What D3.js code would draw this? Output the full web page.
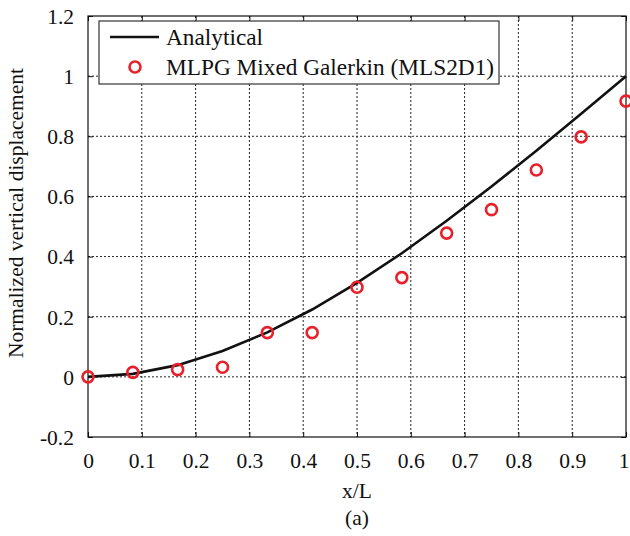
<!DOCTYPE html>
<html><head><meta charset="utf-8">
<script src="https://cdn.jsdelivr.net/npm/d3@7"></script>
<style>body{margin:0;background:#fff}svg text{font-family:"Liberation Serif","Tinos","Times New Roman",serif;fill:#111}</style>
</head><body><svg id="c" width="630" height="536"></svg>
<script>
const xTicks = [0,0.1,0.2,0.3,0.4,0.5,0.6,0.7,0.8,0.9,1];
const xTickLabels = ["0","0.1","0.2","0.3","0.4","0.5","0.6","0.7","0.8","0.9","1"];
const yTicks = [-0.2,0,0.2,0.4,0.6,0.8,1,1.2];
const yTickLabels = ["-0.2","0","0.2","0.4","0.6","0.8","1","1.2"];
const xPos = [0,1/12,2/12,3/12,4/12,5/12,6/12,7/12,8/12,9/12,10/12,11/12,1];
const analytical = [0,0.010,0.039,0.086,0.148,0.224,0.3125,0.411,0.519,0.633,0.752,0.875,1.0];
const mlpg = [0,0.015,0.024,0.032,0.147,0.147,0.298,0.330,0.478,0.556,0.688,0.798,0.917];
const seriesNames = ["Analytical","MLPG Mixed Galerkin (MLS2D1)"];

const FONT = '"Liberation Serif","Tinos","Times New Roman",serif';
const svg = d3.select("#c").attr("font-family",FONT);
const L=88,R=626,T=16,B=437;
const x = d3.scaleLinear().domain([0,1]).range([L,R]);
const y = d3.scaleLinear().domain([-0.2,1.2]).range([B,T]);

// grid
const g = svg.append("g");
g.selectAll(".gx").data(xTicks.slice(1,-1)).enter().append("line")
 .attr("x1",d=>x(d)).attr("x2",d=>x(d)).attr("y1",T).attr("y2",B)
 .attr("stroke","#222").attr("stroke-width",1).attr("stroke-dasharray","2,2");
g.selectAll(".gy").data(yTicks.slice(1,-1)).enter().append("line")
 .attr("y1",d=>y(d)).attr("y2",d=>y(d)).attr("x1",L).attr("x2",R)
 .attr("stroke","#222").attr("stroke-width",1).attr("stroke-dasharray","2,2");

// axes with inward ticks
const fmtX = (d,i)=>xTickLabels[i], fmtY=(d,i)=>yTickLabels[i];
svg.append("g").attr("transform",`translate(0,${B})`)
 .call(d3.axisBottom(x).tickValues(xTicks).tickFormat(fmtX).tickSizeInner(-5).tickSizeOuter(0))
 .call(a=>{a.attr("font-family",FONT);a.select(".domain").remove();
   a.selectAll("text").attr("font-size",21.5).attr("y",31).attr("dy",null).attr("font-family",FONT)
    .attr("x",(d,i)=>i===xTicks.length-1?-2.5:0);});
svg.append("g").attr("transform",`translate(0,${T})`)
 .call(d3.axisTop(x).tickValues(xTicks).tickFormat("").tickSizeInner(-5).tickSizeOuter(0))
 .call(a=>a.select(".domain").remove());
svg.append("g").attr("transform",`translate(${L},0)`)
 .call(d3.axisLeft(y).tickValues(yTicks).tickFormat(fmtY).tickSizeInner(-5).tickSizeOuter(0))
 .call(a=>{a.attr("font-family",FONT);a.select(".domain").remove();
   a.selectAll("text").attr("font-size",21.5).attr("x",-14).attr("dy","0.34em").attr("font-family",FONT);});
svg.append("g").attr("transform",`translate(${R},0)`)
 .call(d3.axisRight(y).tickValues(yTicks).tickFormat("").tickSizeInner(-5).tickSizeOuter(0))
 .call(a=>a.select(".domain").remove());
svg.selectAll(".tick line").attr("stroke","#111");
svg.append("rect").attr("x",L).attr("y",T).attr("width",R-L).attr("height",B-T)
 .attr("fill","none").attr("stroke","#111").attr("stroke-width",1.2);

// line
const pts = xPos.map((v,i)=>[v,analytical[i]]);
svg.append("path").datum(pts)
 .attr("d",d3.line().x(d=>x(d[0])).y(d=>y(d[1])))
 .attr("fill","none").attr("stroke","#111").attr("stroke-width",2.6);

// markers
svg.selectAll(".m").data(xPos.map((v,i)=>[v,mlpg[i]])).enter().append("circle")
 .attr("cx",d=>x(d[0])).attr("cy",d=>y(d[1])).attr("r",5.5)
 .attr("fill","none").attr("stroke","#e8202a").attr("stroke-width",2.6);

// legend
const lg = svg.append("g");
lg.append("rect").attr("x",99).attr("y",21).attr("width",400).attr("height",63)
 .attr("fill","#fff").attr("stroke","#333").attr("stroke-width",1.2);
lg.append("line").attr("x1",110).attr("x2",159).attr("y1",37).attr("y2",37)
 .attr("stroke","#111").attr("stroke-width",2.6);
lg.append("text").attr("x",166).attr("y",45).attr("font-size",23.3).attr("font-family",FONT).text(seriesNames[0]);
lg.append("circle").attr("cx",135).attr("cy",67).attr("r",5.5)
 .attr("fill","none").attr("stroke","#e8202a").attr("stroke-width",2.6);
lg.append("text").attr("x",166).attr("y",75).attr("font-size",23.3).attr("font-family",FONT).text(seriesNames[1]);

// labels
svg.append("text").attr("x",357).attr("y",498).attr("text-anchor","middle").attr("font-size",21.5).attr("font-family",FONT).text("x/L");
svg.append("text").attr("x",357).attr("y",525).attr("text-anchor","middle").attr("font-size",21.5).attr("font-family",FONT).text("(a)");
svg.append("text").attr("transform","translate(23,213) rotate(-90)").attr("text-anchor","middle").attr("font-size",21.5).attr("font-family",FONT).text("Normalized vertical displacement");
</script></body></html>
